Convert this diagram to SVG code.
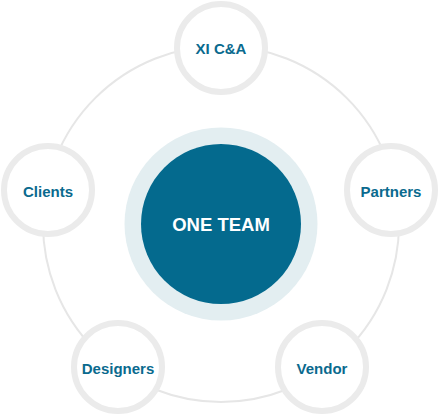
<svg xmlns="http://www.w3.org/2000/svg" width="441" height="416" viewBox="0 0 441 416">
  <style>
    .ring { fill: #ffffff; stroke: #ebebeb; stroke-width: 6; }
    .lbl { font-family: "Liberation Sans", Arial, sans-serif; font-weight: bold; font-size: 15px; fill: #0a6a8e; text-anchor: middle; dominant-baseline: central; }
    .orbit { fill: none; stroke: #e6e6e6; stroke-width: 2; }
  </style>
  <rect width="441" height="416" fill="#ffffff"/>
  <g id="connectors">
    <circle class="orbit" cx="221" cy="224" r="178"/>
  </g>
  <g id="center">
    <circle cx="221" cy="224" r="96.5" fill="#e3eef1"/>
    <circle cx="221" cy="224" r="80" fill="#046a8e"/>
    <text x="221" y="224" font-family="Liberation Sans, Arial, sans-serif" font-weight="bold" font-size="18.5" fill="#ffffff" text-anchor="middle" dominant-baseline="central">ONE TEAM</text>
  </g>
  <g id="xica">
    <circle class="ring" cx="221" cy="48" r="44"/>
    <text class="lbl" x="221" y="48">XI C&amp;A</text>
  </g>
  <g id="clients">
    <circle class="ring" cx="48" cy="190" r="44"/>
    <text class="lbl" x="48" y="191">Clients</text>
  </g>
  <g id="partners">
    <circle class="ring" cx="391" cy="190" r="44"/>
    <text class="lbl" x="391" y="191">Partners</text>
  </g>
  <g id="designers">
    <circle class="ring" cx="118" cy="367" r="44"/>
    <text class="lbl" x="118" y="368">Designers</text>
  </g>
  <g id="vendor">
    <circle class="ring" cx="322" cy="367" r="44"/>
    <text class="lbl" x="322" y="368">Vendor</text>
  </g>
</svg>
